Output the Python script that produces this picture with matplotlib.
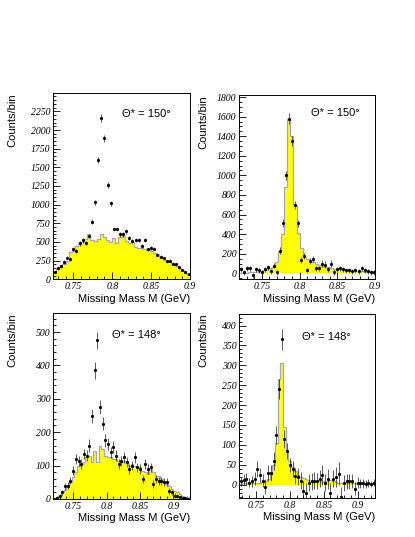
import numpy as np
import matplotlib.pyplot as plt
from matplotlib.ticker import MultipleLocator, AutoMinorLocator

# ---------------- data (bin width 0.004 GeV) ----------------
BIN = 0.004

# top left : theta* = 150 deg, before subtraction
tl_lo = 0.724
tl_hist = [100, 140, 170, 200, 250, 370, 380, 440, 480, 500, 540, 610, 520, 510, 540,
           600, 560, 530, 500, 550, 490, 560, 580, 510, 480, 500, 430, 420, 420, 400,
           390, 380, 350, 340, 300, 290, 250, 230, 200, 180, 150, 120, 90, 60]
tl_data = [95, 150, 175, 230, 290, 265, 410, 380, 480, 520, 490, 580, 770, 1030, 1600,
           2160, 1890, 1260, 1020, 670, 670, 600, 600, 640, 550, 510, 530, 530, 450, 520,
           400, 420, 410, 330, 300, 280, 240, 250, 210, 200, 160, 120, 100, 70]
tl_err = [18, 20, 20, 22, 24, 24, 26, 26, 28, 28, 28, 30, 32, 36, 42,
          48, 45, 38, 35, 30, 30, 28, 28, 29, 27, 26, 27, 27, 25, 27,
          24, 24, 24, 22, 21, 20, 19, 19, 18, 18, 17, 16, 15, 14]

# top right : theta* = 150 deg, after subtraction
tr_lo = 0.720
tr_hist = [5, 5, 8, 10, 10, 12, 15, 20, 30, 45, 55, 70, 120, 230, 400,
           880, 1580, 1400, 700, 410, 260, 170, 150, 130, 115, 95, 85, 75, 65, 60,
           55, 45, 40, 40, 35, 30, 30, 28, 25, 22, 20, 15, 12, 10, 8]
tr_data = [40, 10, 50, 50, -20, 40, 30, 10, 40, 60, 20, 80, 10, 230, 510,
           1000, 1580, 1350, 700, 510, 140, 180, 30, 130, 150, 50, 50, 100, 90, 40,
           100, 10, 40, 50, 40, 30, 30, 20, 30, 20, 50, 30, 20, 10, 10]
tr_err = [25, 25, 28, 28, 25, 28, 28, 25, 28, 30, 28, 30, 28, 35, 40,
          45, 55, 50, 40, 38, 32, 32, 28, 30, 32, 30, 30, 32, 32, 28,
          32, 28, 28, 28, 28, 26, 26, 25, 25, 25, 26, 25, 24, 22, 22]

# bottom left : theta* = 148 deg, before subtraction
bl_lo = 0.720
bl_hist = [3, 5, 10, 20, 28, 40, 50, 65, 80, 100, 105, 110, 125, 130, 110,
           145, 110, 160, 150, 130, 125, 125, 120, 120, 115, 110, 115, 110, 100, 105,
           100, 95, 95, 85, 80, 75, 90, 80, 70, 70, 60, 50, 45, 40, 30,
           25, 20, 15, 10, 7, 5]
bl_data = [0, 3, 8, 20, 38, 40, 55, 85, 120, 115, 105, 135, 130, 160, 248,
           385, 475, 275, 225, 175, 165, 140, 155, 130, 105, 115, 125, 110, 90, 100,
           125, 95, 90, 60, 105, 90, 95, 45, 60, 55, 55, 50, 50, 25, 20,
           10, 8, 5, 3, 2, 1]
bl_err = [4, 5, 6, 8, 10, 10, 11, 13, 15, 15, 14, 16, 16, 18, 22,
          26, 25, 22, 20, 18, 18, 17, 17, 16, 15, 15, 16, 15, 14, 14,
          16, 14, 14, 12, 14, 14, 14, 12, 12, 12, 12, 12, 12, 9, 8,
          7, 6, 5, 4, 4, 3]

# bottom right : theta* = 148 deg, after subtraction
br_lo = 0.722
br_hist = [2, 2, 3, 3, 3, 4, 4, 5, 5, 6, 8, 15, 25, 50, 105,
           265, 305, 145, 85, 60, 45, 35, 25, 20, 18, 15, 12, 10, 10, 8,
           8, 7, 8, 10, 12, 8, 6, 5, 5, 4, 4, 3, 3, 3, 2,
           2, 2, 2, 2, 2, 2]
br_data = [5, 8, 12, 15, 5, 8, 15, 40, 25, 10, -5, 30, 30, 60, 125,
           240, 365, 115, 85, 50, 40, 22, 20, 10, -15, -20, 5, 8, 10, 10,
           15, 25, 5, 15, -20, 15, 20, 28, -30, 5, 8, 8, 10, -10, 5,
           3, 3, 2, 3, 2, 5]
br_err = [10, 12, 14, 15, 12, 14, 16, 20, 18, 16, 18, 20, 20, 22, 22,
          25, 26, 22, 20, 18, 20, 20, 22, 22, 24, 25, 22, 22, 22, 20,
          22, 25, 22, 25, 25, 22, 25, 28, 25, 20, 18, 18, 18, 16, 14,
          12, 12, 10, 10, 8, 8]

labels = ['\u0398* = 150\u00b0', '\u0398* = 150\u00b0', '\u0398* = 148\u00b0', '\u0398* = 148\u00b0']

SANS = 'Liberation Sans'
SERIF = 'Liberation Serif'


def panel(ax, lo, hist, data, err, xlim, ylim, ymaj, ymin_div, label, lab_xy, ylab_x):
    edges = lo + BIN * np.arange(len(hist) + 1)
    centers = edges[:-1] + BIN / 2
    ax.stairs(hist, edges, baseline=0, fill=True, color='#ffff00', lw=0, zorder=1)
    ax.stairs(hist, edges, baseline=0, fill=False, color='#a4a4c8', lw=0.9, zorder=2)
    ax.errorbar(centers, data, yerr=err, xerr=BIN * 0.2, fmt='s', ms=1.1,
                color='black', elinewidth=0.45, capsize=0, zorder=3)
    ax.set_xlim(*xlim)
    ax.set_ylim(*ylim)
    ax.xaxis.set_major_locator(MultipleLocator(0.05))
    ax.xaxis.set_minor_locator(AutoMinorLocator(5))
    ax.yaxis.set_major_locator(MultipleLocator(ymaj))
    ax.yaxis.set_minor_locator(AutoMinorLocator(ymin_div))
    ax.xaxis.set_major_formatter(plt.FuncFormatter(lambda v, p: ('%g' % round(v, 3))))
    ax.tick_params(which='both', direction='in', top=False, right=False, width=0.6)
    ax.tick_params(which='major', length=5, labelsize=7, pad=2)
    ax.tick_params(which='minor', length=2.5)
    for t in ax.get_xticklabels() + ax.get_yticklabels():
        t.set_family(SERIF)
        t.set_style('italic')
    for s in ax.spines.values():
        s.set_linewidth(0.7)
    ax.set_xlabel('Missing Mass M (GeV)', family=SANS, fontsize=8, ha='right', va='top')
    ax.xaxis.set_label_coords(1.0, -0.078)
    ax.set_ylabel('Counts/bin', family=SANS, fontsize=8, ha='right', va='center')
    ax.yaxis.set_label_coords(ylab_x, 1.0)
    ax.text(lab_xy[0], lab_xy[1], label, transform=ax.transAxes, family=SANS,
            fontsize=8, ha='left', va='center')


fig = plt.figure(figsize=(4.15, 5.37), dpi=100)
ax_tl = fig.add_axes([0.128, 0.480, 0.330, 0.346])
ax_tr = fig.add_axes([0.576, 0.480, 0.328, 0.343])
ax_bl = fig.add_axes([0.128, 0.071, 0.330, 0.346])
ax_br = fig.add_axes([0.576, 0.073, 0.328, 0.343])

panel(ax_tl, tl_lo, tl_hist, tl_data, tl_err, (0.724, 0.9), (0, 2490), 250, 5,
      labels[0], (0.50, 0.892), -0.30)
panel(ax_tr, tr_lo, tr_hist, tr_data, tr_err, (0.72, 0.9), (-60, 1820), 200, 4,
      labels[1], (0.53, 0.90), -0.265)
panel(ax_bl, bl_lo, bl_hist, bl_data, bl_err, (0.72, 0.925), (0, 557), 100, 5,
      labels[2], (0.43, 0.88), -0.30)
panel(ax_br, br_lo, br_hist, br_data, br_err, (0.725, 0.926), (-33, 430), 50, 5,
      labels[3], (0.46, 0.875), -0.265)

fig.savefig('out.png', dpi=100)
